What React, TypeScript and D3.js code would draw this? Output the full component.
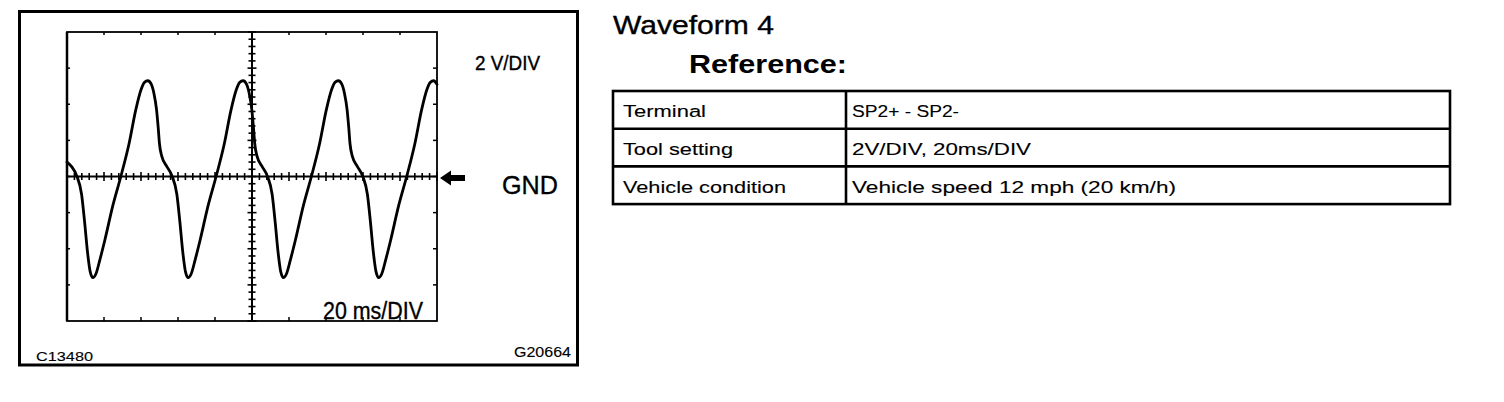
import React from 'react';
import * as d3 from 'd3';

// Trace: time in ms (20 ms/div), voltage in V (2 V/div)
const timeMs = [
  0, 2.5, 5.2, 7.9, 9.5, 11.1, 12.5,
  14.0, 15.6, 17.8, 20.5, 24.8, 29.1, 33.5, 37.2, 40.0, 41.8, 43.7, 45.6, 47.0, 48.4, 49.3, 50.0, 51.3, 54.0, 56.7, 59.4, 61.0, 62.6, 64.0,
  65.5, 67.1, 69.3, 72.0, 76.3, 80.6, 85.0, 88.7, 91.5, 93.3, 95.2, 97.1, 98.5, 99.9, 100.8, 101.5, 102.8, 105.5, 108.2, 110.9, 112.5, 114.1, 115.5,
  117.0, 118.6, 120.8, 123.5, 127.8, 132.1, 136.5, 140.2, 143.0, 144.8, 146.7, 148.6, 150.0, 151.4, 152.3, 153.0, 154.3, 157.0, 159.7, 162.4, 164.0, 165.6, 167.0,
  168.5, 170.1, 172.3, 175.0, 179.3, 183.6, 188.0, 191.7, 194.5, 196.3, 198.2, 200.0,
];
const volts = [
  0.8, 0.55, 0.05, -1.0, -2.5, -4.2, -5.25,
  -5.6, -5.4, -4.6, -3.5, -1.6, 0, 1.8, 3.7, 4.8, 5.2, 5.3, 5.1, 4.6, 3.7, 2.7, 1.8, 1.1, 0.55, 0.05, -1.0, -2.5, -4.2, -5.25,
  -5.6, -5.4, -4.6, -3.5, -1.6, 0, 1.8, 3.7, 4.8, 5.2, 5.3, 5.1, 4.6, 3.7, 2.7, 1.8, 1.1, 0.55, 0.05, -1.0, -2.5, -4.2, -5.25,
  -5.6, -5.4, -4.6, -3.5, -1.6, 0, 1.8, 3.7, 4.8, 5.2, 5.3, 5.1, 4.6, 3.7, 2.7, 1.8, 1.1, 0.55, 0.05, -1.0, -2.5, -4.2, -5.25,
  -5.6, -5.4, -4.6, -3.5, -1.6, 0, 1.8, 3.7, 4.8, 5.2, 5.3, 5.1,
];

// graticule divisions
const timeDivs = [0, 20, 40, 60, 80, 100, 120, 140, 160, 180, 200];
const voltDivs = [-8, -6, -4, -2, 0, 2, 4, 6, 8];

// reference table
const rowLabels = ['Terminal', 'Tool setting', 'Vehicle condition'];
const rowValues = ['SP2+ - SP2-', '2V/DIV, 20ms/DIV', 'Vehicle speed 12 mph (20 km/h)'];
const labelWidths = [83, 110, 163];
const valueWidths = [107, 179, 324];

const FONT = "'Liberation Sans', Arial, Helvetica, sans-serif";

const App = () => {
  const x = d3.scaleLinear().domain([0, 200]).range([67, 437]);
  const y = d3.scaleLinear().domain([-8, 8]).range([321, 32]);

  const trace = d3.line<number>()
    .x((d, i) => x(timeMs[i]))
    .y(d => y(d))
    .curve(d3.curveMonotoneX)(volts);

  const minorT = d3.range(0, 200.01, 4);
  const minorV = d3.range(-8, 8.01, 0.4);
  const gnd = y(0);
  const mid = x(100);

  // table layout
  const tLeft = 613, tRight = 1450, tDiv = 846, tTop = 91, rowH = 37.7;

  // scanned text looks slightly heavy
  const ink = { fill: '#000', stroke: '#000', strokeWidth: 0.35 };
  const inkSmall = { fill: '#000', stroke: '#000', strokeWidth: 0.12 };

  return (
    <div style={{ position: 'absolute', left: 0, top: 0 }}>
      <svg width={1504} height={402} style={{ display: 'block', background: '#fff' }}>
        {/* outer frame */}
        <rect x={19.5} y={11.5} width={558} height={353.5} fill="none" stroke="#000" strokeWidth={3} />

        {/* scope screen */}
        <rect x={x(0)} y={y(8)} width={x(200) - x(0)} height={y(-8) - y(8)} fill="none" stroke="#000" strokeWidth={1.8} />
        <line x1={x(0)} x2={x(0)} y1={y(8)} y2={y(-8)} stroke="#000" strokeWidth={2.5} />

        {timeDivs.slice(1, -1).map(t => (
          <g key={'td' + t}>
            <line x1={x(t)} x2={x(t)} y1={y(8)} y2={y(8) + 3} stroke="#000" strokeWidth={1.5} />
            <line x1={x(t)} x2={x(t)} y1={y(-8)} y2={y(-8) - 4} stroke="#000" strokeWidth={1.5} />
          </g>
        ))}
        {voltDivs.slice(1, -1).map(v => (
          <g key={'vd' + v}>
            <line x1={x(0)} x2={x(0) + 3} y1={y(v)} y2={y(v)} stroke="#000" strokeWidth={1.5} />
            <line x1={x(200) - 4} x2={x(200)} y1={y(v)} y2={y(v)} stroke="#000" strokeWidth={1.5} />
          </g>
        ))}

        {/* center cross with minor ticks */}
        <line x1={x(0)} x2={x(200)} y1={gnd} y2={gnd} stroke="#000" strokeWidth={1.8} />
        <line x1={mid} x2={mid} y1={y(8)} y2={y(-8)} stroke="#000" strokeWidth={2} />
        {minorT.map(t => {
          const major = Math.abs(t % 20) < 0.01;
          const h = major ? 4.5 : 3.5;
          return <line key={'mt' + t} x1={x(t)} x2={x(t)} y1={gnd - h} y2={gnd + h} stroke="#000" strokeWidth={1.6} />;
        })}
        {minorV.map(v => {
          const major = Math.abs(Math.round(v * 10) % 20) < 0.01;
          const w = major ? 4.5 : 3.5;
          return <line key={'mv' + v} x1={mid - w} x2={mid + w} y1={y(v)} y2={y(v)} stroke="#000" strokeWidth={1.6} />;
        })}

        {/* waveform */}
        <path d={trace || ''} fill="none" stroke="#000" strokeWidth={2.8} strokeLinejoin="round" strokeLinecap="round" />

        {/* GND arrow */}
        <path
          d={`M${x(200) + 3},${gnd + 1.5} L${x(200) + 14},${gnd - 6} L${x(200) + 14},${gnd - 1.5} L${x(200) + 28},${gnd - 1.5} L${x(200) + 28},${gnd + 4.5} L${x(200) + 14},${gnd + 4.5} L${x(200) + 14},${gnd + 9} Z`}
          fill="#000"
        />

        {/* screen labels */}
        <text x={475} y={70} fontFamily={FONT} fontSize={19.5} textLength={65} lengthAdjust="spacingAndGlyphs" {...ink}>2 V/DIV</text>
        <text x={502} y={194} fontFamily={FONT} fontSize={26} textLength={56} lengthAdjust="spacingAndGlyphs" {...ink}>GND</text>
        <text x={323} y={319} fontFamily={FONT} fontSize={23.5} textLength={100} lengthAdjust="spacingAndGlyphs" {...ink}>20 ms/DIV</text>
        <text x={36} y={361} fontFamily={FONT} fontSize={13} textLength={57} lengthAdjust="spacingAndGlyphs" {...inkSmall}>C13480</text>
        <text x={514} y={356.5} fontFamily={FONT} fontSize={14} textLength={57} lengthAdjust="spacingAndGlyphs" {...inkSmall}>G20664</text>

        {/* right-hand header */}
        <text x={613} y={34} fontFamily={FONT} fontSize={25.5} textLength={161} lengthAdjust="spacingAndGlyphs" {...ink}>Waveform 4</text>
        <text x={689} y={73} fontFamily={FONT} fontSize={25.5} fontWeight="bold" textLength={158} lengthAdjust="spacingAndGlyphs">Reference:</text>

        {/* table */}
        <rect x={tLeft} y={tTop} width={tRight - tLeft} height={rowH * 3} fill="none" stroke="#000" strokeWidth={2.6} />
        {[1, 2].map(i => (
          <line key={'rl' + i} x1={tLeft} x2={tRight} y1={tTop + rowH * i} y2={tTop + rowH * i} stroke="#000" strokeWidth={2.6} />
        ))}
        <line x1={tDiv} x2={tDiv} y1={tTop} y2={tTop + rowH * 3} stroke="#000" strokeWidth={2.6} />
        {rowLabels.map((label, i) => (
          <g key={label}>
            <text x={623} y={tTop + rowH * i + 26.3} fontFamily={FONT} fontSize={17.2} textLength={labelWidths[i]} lengthAdjust="spacingAndGlyphs" {...inkSmall}>{label}</text>
            <text x={852} y={tTop + rowH * i + 26.3} fontFamily={FONT} fontSize={17.2} textLength={valueWidths[i]} lengthAdjust="spacingAndGlyphs" {...inkSmall}>{rowValues[i]}</text>
          </g>
        ))}
      </svg>
    </div>
  );
};

export default App;
